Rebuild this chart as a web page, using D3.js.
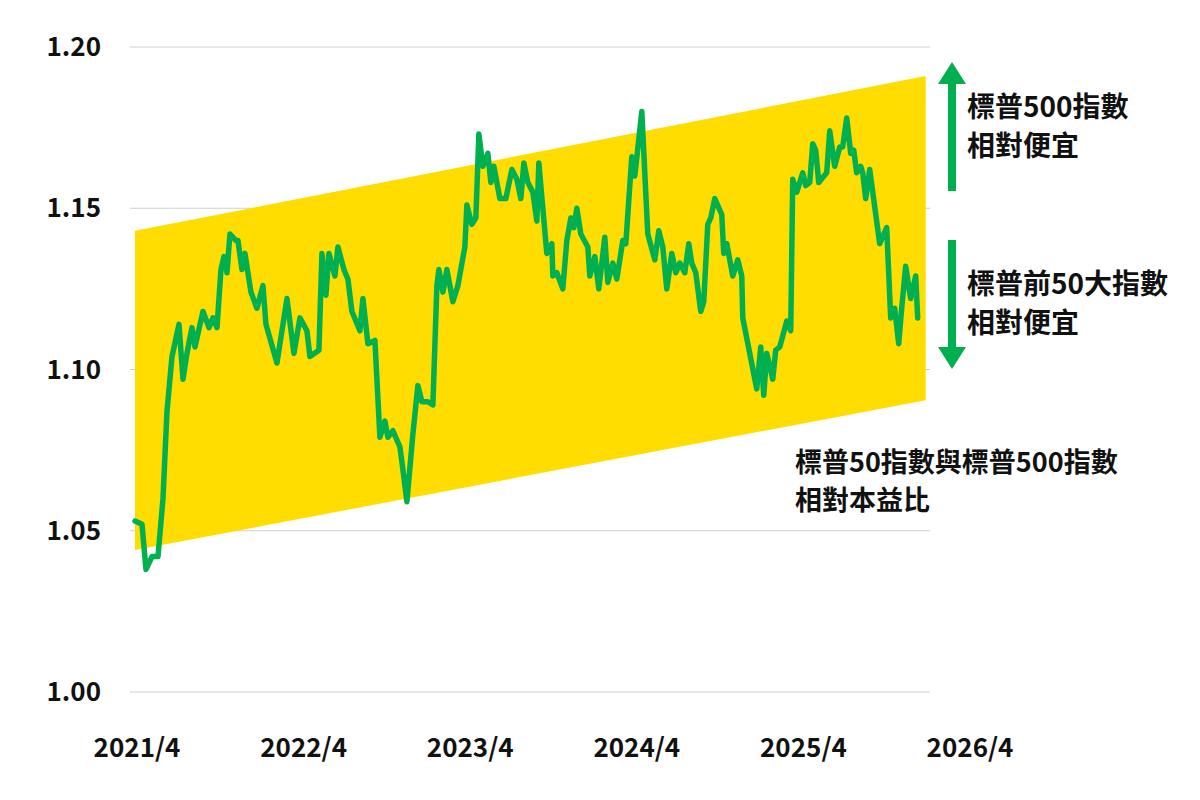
<!DOCTYPE html>
<html><head><meta charset="utf-8">
<script src="https://cdn.jsdelivr.net/npm/d3@7"></script>
<style>body{margin:0;background:#fff}text{font-family:"Noto Sans CJK TC","Noto Sans",sans-serif}</style>
</head><body>
<script>
// decimal years and relative P/E values
const years = [2021.238,2021.280,2021.304,2021.340,2021.376,2021.406,2021.430,2021.460,2021.502,2021.526,2021.550,2021.580,2021.598,2021.646,2021.682,2021.706,2021.730,2021.754,2021.772,2021.790,2021.808,2021.844,2021.856,2021.880,2021.898,2021.934,2021.970,2022.006,2022.024,2022.090,2022.150,2022.192,2022.228,2022.270,2022.288,2022.342,2022.360,2022.384,2022.402,2022.438,2022.456,2022.492,2022.516,2022.540,2022.588,2022.606,2022.636,2022.678,2022.708,2022.738,2022.756,2022.786,2022.828,2022.846,2022.870,2022.906,2022.936,2022.960,2022.996,2023.026,2023.050,2023.062,2023.086,2023.110,2023.146,2023.176,2023.218,2023.230,2023.260,2023.284,2023.302,2023.326,2023.356,2023.374,2023.392,2023.428,2023.464,2023.500,2023.530,2023.554,2023.572,2023.596,2023.626,2023.650,2023.662,2023.686,2023.710,2023.740,2023.746,2023.770,2023.806,2023.830,2023.854,2023.872,2023.890,2023.914,2023.956,2023.968,2023.998,2024.022,2024.058,2024.076,2024.106,2024.130,2024.166,2024.184,2024.220,2024.238,2024.280,2024.316,2024.358,2024.382,2024.406,2024.430,2024.460,2024.484,2024.508,2024.538,2024.562,2024.580,2024.604,2024.634,2024.652,2024.676,2024.694,2024.718,2024.760,2024.772,2024.790,2024.826,2024.856,2024.880,2024.886,2024.928,2024.970,2024.994,2025.012,2025.030,2025.066,2025.084,2025.108,2025.150,2025.174,2025.186,2025.210,2025.246,2025.264,2025.288,2025.306,2025.324,2025.342,2025.390,2025.408,2025.438,2025.468,2025.486,2025.510,2025.534,2025.552,2025.570,2025.594,2025.606,2025.624,2025.648,2025.708,2025.750,2025.774,2025.798,2025.822,2025.840,2025.864,2025.894,2025.924,2025.936];
const ratios = [1.053,1.052,1.038,1.042,1.042,1.060,1.087,1.104,1.114,1.097,1.105,1.113,1.107,1.118,1.113,1.116,1.113,1.131,1.135,1.130,1.142,1.140,1.140,1.131,1.136,1.124,1.119,1.126,1.114,1.102,1.122,1.105,1.116,1.112,1.104,1.106,1.136,1.123,1.136,1.129,1.138,1.131,1.128,1.118,1.112,1.122,1.108,1.109,1.079,1.084,1.079,1.081,1.076,1.069,1.059,1.080,1.095,1.090,1.090,1.089,1.126,1.131,1.124,1.131,1.121,1.126,1.138,1.151,1.145,1.147,1.173,1.163,1.167,1.158,1.163,1.153,1.153,1.162,1.159,1.153,1.164,1.158,1.155,1.146,1.164,1.150,1.136,1.139,1.129,1.130,1.125,1.140,1.147,1.144,1.150,1.142,1.138,1.129,1.135,1.125,1.141,1.127,1.133,1.128,1.140,1.139,1.166,1.160,1.180,1.142,1.134,1.143,1.138,1.125,1.136,1.130,1.133,1.130,1.139,1.133,1.130,1.118,1.121,1.145,1.147,1.153,1.148,1.136,1.139,1.129,1.134,1.129,1.116,1.105,1.094,1.107,1.092,1.105,1.097,1.106,1.107,1.115,1.112,1.159,1.155,1.161,1.157,1.158,1.170,1.168,1.158,1.161,1.174,1.163,1.169,1.169,1.178,1.167,1.168,1.161,1.163,1.161,1.153,1.162,1.139,1.144,1.116,1.119,1.108,1.119,1.132,1.122,1.129,1.116];

// channel band: start / end years with upper and lower bounds
const bandYears = [2021.238, 2025.984];
const bandUpper = [1.143, 1.191];
const bandLower = [1.044, 1.0905];

const yTicks = [1.00, 1.05, 1.10, 1.15, 1.20];
const xTicks = [2021.25, 2022.25, 2023.25, 2024.25, 2025.25, 2026.25];
const xTickLabels = ['2021/4', '2022/4', '2023/4', '2024/4', '2025/4', '2026/4'];

const width = 1200, height = 800;
const green = '#00b050';

const svg = d3.select('body').append('svg')
    .attr('width', width)
    .attr('height', height);

const x = d3.scaleLinear().domain([2021.25, 2026.25]).range([137, 970]);
const y = d3.scaleLinear().domain([1.0, 1.2]).range([692, 47]);

// Gridlines
svg.append('g')
    .selectAll('line')
    .data(yTicks)
    .enter().append('line')
    .attr('x1', 130).attr('x2', 930)
    .attr('y1', d => y(d)).attr('y2', d => y(d))
    .attr('stroke', '#cfcfcf')
    .attr('stroke-width', 1.2);

// Yellow band
const band = [
    [bandYears[0], bandUpper[0]], [bandYears[1], bandUpper[1]],
    [bandYears[1], bandLower[1]], [bandYears[0], bandLower[0]]
];
svg.append('path')
    .attr('d', 'M' + band.map(d => [x(d[0]), y(d[1])].join(',')).join('L') + 'Z')
    .attr('fill', '#ffdd00');

// Y axis labels
svg.append('g')
    .selectAll('text')
    .data(yTicks)
    .enter().append('text')
    .attr('x', 101)
    .attr('y', d => y(d) + 9)
    .attr('text-anchor', 'end')
    .attr('font-size', 26)
    .attr('font-weight', 700)
    .attr('fill', '#111')
    .text(d => d.toFixed(2));

// X axis labels
svg.append('g')
    .selectAll('text')
    .data(xTicks)
    .enter().append('text')
    .attr('x', d => x(d))
    .attr('y', 757)
    .attr('text-anchor', 'middle')
    .attr('font-size', 26)
    .attr('font-weight', 700)
    .attr('fill', '#111')
    .text((d, i) => xTickLabels[i]);

// Line
const line = d3.line()
    .x((d, i) => x(years[i]))
    .y(d => y(d));
svg.append('path')
    .attr('d', line(ratios))
    .attr('fill', 'none')
    .attr('stroke', green)
    .attr('stroke-width', 5.5)
    .attr('stroke-linejoin', 'round')
    .attr('stroke-linecap', 'round');

// Arrows
function arrow(xp, y1, y2) {
    const dir = y2 < y1 ? -1 : 1;
    svg.append('line')
        .attr('x1', xp).attr('x2', xp)
        .attr('y1', y1).attr('y2', y2 - dir * 20)
        .attr('stroke', green).attr('stroke-width', 8);
    svg.append('path')
        .attr('d', `M${xp - 14},${y2 - dir * 22}L${xp + 14},${y2 - dir * 22}L${xp},${y2}Z`)
        .attr('fill', green);
}
arrow(952, 191, 62);
arrow(952, 240, 369);

function label(lines, xp, yp, gap, size) {
    const t = svg.append('text')
        .attr('font-size', size).attr('font-weight', 700).attr('fill', '#111');
    lines.forEach((s, i) => t.append('tspan').attr('x', xp).attr('y', yp + i * gap).text(s));
}
label(['標普500指數', '相對便宜'], 967, 117, 39, 28);
label(['標普前50大指數', '相對便宜'], 967, 294, 39, 28);
label(['標普50指數與標普500指數', '相對本益比'], 795, 472, 38, 27);
</script>
</body></html>
